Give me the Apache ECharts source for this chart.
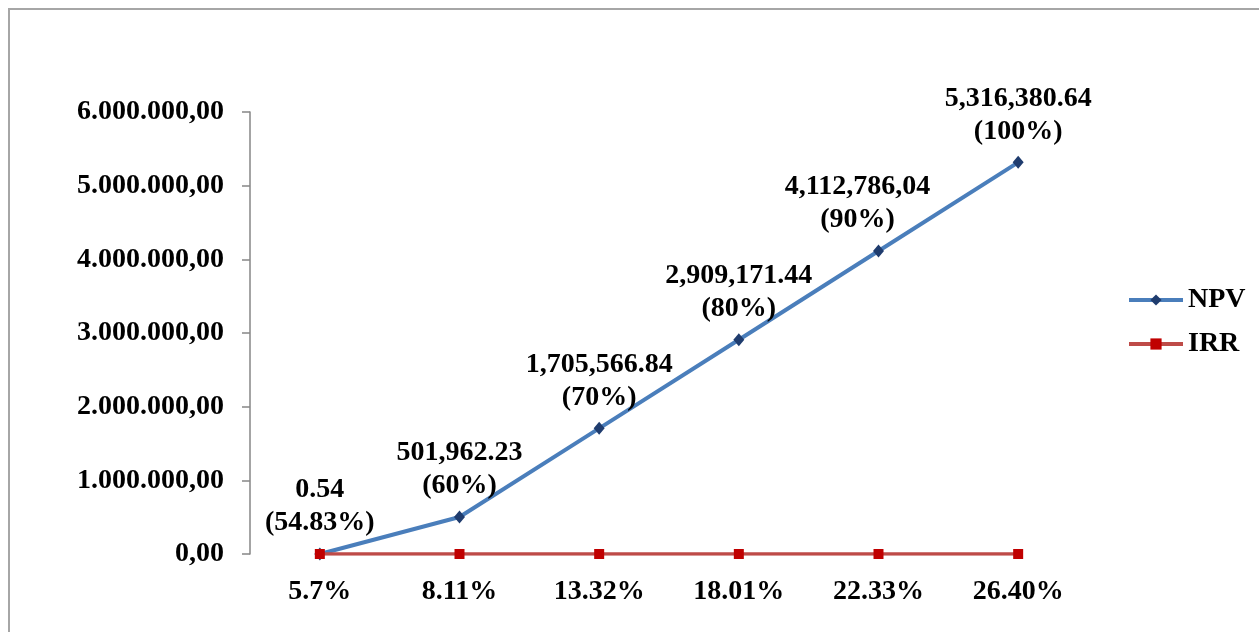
<!DOCTYPE html>
<html>
<head>
<meta charset="utf-8">
<script src="https://cdn.jsdelivr.net/npm/echarts@6/dist/echarts.min.js"></script>
<style>
  html, body { margin: 0; padding: 0; background: #fff; }
  #chart { width: 1259px; height: 632px; }
</style>
</head>
<body>
<div id="chart"></div>
<script>
// kategori IRR pada sumbu x
var categories = ['5.7%', '8.11%', '13.32%', '18.01%', '22.33%', '26.40%'];
// nilai NPV
var npvValues = [0.54, 501962.23, 1705566.84, 2909171.44, 4112786.04, 5316380.64];
// nilai IRR (dalam persen, tampak nol pada skala NPV)
var irrValues = [5.7, 8.11, 13.32, 18.01, 22.33, 26.40];
// teks label di atas titik NPV
var npvTexts = ['0.54', '501,962.23', '1,705,566.84', '2,909,171.44', '4,112,786,04', '5,316,380.64'];
var shareTexts = ['(54.83%)', '(60%)', '(70%)', '(80%)', '(90%)', '(100%)'];
// tick sumbu y
var yMin = 0, yMax = 6000000, yStep = 1000000;

var font = 'Liberation Serif';

function euro(v) {
  var parts = v.toFixed(2).split('.');
  return parts[0].replace(/\B(?=(\d{3})+(?!\d))/g, '.') + ',' + parts[1];
}

var npvData = npvValues.map(function (v, i) {
  var d = { value: v };
  if (i === 4) d.label = { offset: [-21, 0] };
  return d;
});

var chart = echarts.init(document.getElementById('chart'));
chart.setOption({
  animation: false,
  backgroundColor: '#fff',
  graphic: [{
    type: 'rect',
    shape: { x: 9, y: 9, width: 1400, height: 800 },
    style: { fill: 'none', stroke: '#a6a6a6', lineWidth: 2 },
    silent: true
  }],
  grid: { left: 250, right: 171, top: 112, bottom: 78 },
  legend: {
    orient: 'vertical',
    left: 1122,
    top: 281,
    itemWidth: 54,
    itemHeight: 14,
    itemGap: 16,
    textStyle: { fontFamily: font, fontWeight: 'bold', fontSize: 28, color: '#000' },
    data: [
      { name: 'NPV', lineStyle: { width: 4 } },
      { name: 'IRR', lineStyle: { width: 4 } }
    ]
  },
  xAxis: {
    type: 'category',
    data: categories,
    axisLine: { show: false },
    axisTick: { show: false },
    axisLabel: { margin: 24, fontFamily: font, fontWeight: 'bold', fontSize: 28, color: '#000' }
  },
  yAxis: {
    type: 'value',
    min: yMin,
    max: yMax,
    interval: yStep,
    axisLine: { show: true, lineStyle: { color: '#868686', width: 1.5 } },
    axisTick: { show: true, length: 8, lineStyle: { color: '#868686', width: 1.5 } },
    splitLine: { show: false },
    axisLabel: {
      margin: 26,
      fontFamily: font, fontWeight: 'bold', fontSize: 28, color: '#000',
      formatter: function (v) { return euro(v); }
    }
  },
  series: [
    {
      name: 'NPV',
      type: 'line',
      data: npvData,
      symbol: 'diamond',
      symbolSize: [11, 13],
      lineStyle: { color: '#4a7ebb', width: 4 },
      itemStyle: { color: '#1f3c6e' },
      label: {
        show: true,
        position: 'top',
        distance: 8,
        align: 'center',
        fontFamily: font, fontWeight: 'bold', fontSize: 28, color: '#000',
        lineHeight: 33,
        formatter: function (p) {
          return npvTexts[p.dataIndex] + '\n' + shareTexts[p.dataIndex];
        }
      },
      z: 2
    },
    {
      name: 'IRR',
      type: 'line',
      data: irrValues,
      symbol: 'rect',
      symbolSize: 10,
      lineStyle: { color: '#be4b48', width: 3.5 },
      itemStyle: { color: '#c00000' },
      z: 3
    }
  ]
});
</script>
</body>
</html>
